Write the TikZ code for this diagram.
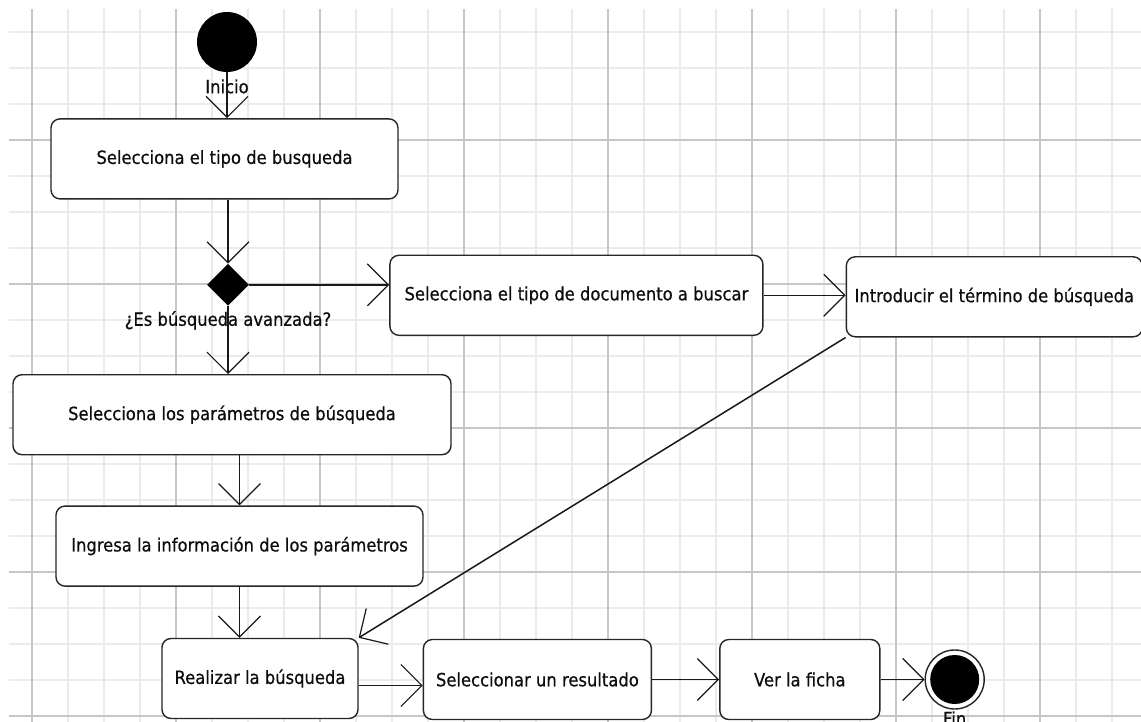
\documentclass[tikz,border=0pt]{standalone}
\usepackage{fontspec}
\setmainfont{DejaVu Sans}[FakeStretch=0.9, FakeBold=0.6]
\usetikzlibrary{positioning, shapes.geometric, arrows.meta}

\begin{document}
\begin{tikzpicture}[x=1pt, y=-1pt,
	every node/.style={font=\fontsize{18.2pt}{21pt}\selectfont, text=black!95},
	act/.style={draw=black!85, line width=1.4pt, rounded corners=9pt, fill=white, minimum height=80pt, inner sep=0pt},
	startnode/.style={circle, fill=black, minimum size=60pt, inner sep=0pt},
	endnode/.style={circle, draw=black!85, line width=1.4pt, fill=white, minimum size=59pt, inner sep=0pt,
		path picture={\fill[black] (path picture bounding box.center) circle (24.5pt);}},
	choice/.style={diamond, fill=black, minimum width=42pt, minimum height=42pt, inner sep=0pt},
	lbl/.style={inner sep=0pt},
	flow/.style={draw=black!90, line width=1.5pt, -{Straight Barb[length=21pt, width=42pt, line width=1.2pt]}},
	minor/.style={draw=black!8, line width=1.2pt},
	major/.style={draw=black!22, line width=1.4pt}]

	\useasboundingbox (0,0) rectangle (1141,722);
	\fill[white] (0,0) rectangle (1141,722);
	\foreach \x in {32,68,...,1141} \draw[minor] (\x,9) -- (\x,722);
	\foreach \y in {32,68,...,722} \draw[minor] (9,\y) -- (1141,\y);
	\foreach \x in {32,176,...,1141} \draw[major] (\x,9) -- (\x,722);
	\foreach \y in {140,284,...,722} \draw[major] (9,\y) -- (1141,\y);

	\node[startnode] (ini) at (227,42) {};
	\node[lbl, below=7pt of ini] (lini) {Inicio};
	\node[act, minimum width=347pt, below=46pt of ini, xshift=-2.5pt] (tipo) {Selecciona el tipo de busqueda};

	\node[choice, below=64pt of tipo, xshift=3.5pt] (avz) {};
	\node[lbl, below=5pt of avz] (lavz) {¿Es búsqueda avanzada?};
	\node[act, minimum width=373pt, right=140pt of avz, yshift=-10.5pt] (doc) {Selecciona el tipo de documento a buscar};
	\node[act, minimum width=296pt, right=82pt of doc, yshift=-1.5pt] (term) {Introducir el término de búsqueda};

	\node[act, minimum width=438pt, below=68pt of avz, xshift=4pt] (param) {Selecciona los parámetros de búsqueda};
	\node[act, minimum width=367pt, below=50pt of param, xshift=7.5pt] (info) {Ingresa la información de los parámetros};
	\node[act, minimum width=196pt, below=51pt of info, xshift=20.5pt] (real) {Realizar la búsqueda};
	\node[act, minimum width=228pt, right=64pt of real, yshift=-1pt] (res) {Seleccionar un resultado};
	\node[act, minimum width=160pt, right=67pt of res] (ficha) {Ver la ficha};
	\node[endnode, right=44pt of ficha] (fin) {};
	\node[lbl, below=1.5pt of fin] (lfin) {Fin};

	\draw[flow] (ini.south) -- (ini.south |- tipo.north);
	\draw[flow] (tipo.south -| avz.north) -- (avz.north);
	\draw[flow] (avz.east) -- (avz.east -| doc.west);
	\draw[flow] (doc.east) -- (doc.east -| term.west);
	\draw[flow] (avz.south) -- (avz.south |- param.north);
	\draw[flow] (param.south -| info.north) -- (info.north);
	\draw[flow] (info.south) -- (info.south |- real.north);
	\draw[flow] (term.south west) -- (real.north east);
	\draw[flow] ([yshift=-7pt]real.east) -- ([yshift=-7pt]real.east -| res.west);
	\draw[flow] (res.east) -- (ficha.west);
	\draw[flow] (ficha.east) -- (fin.west);
\end{tikzpicture}
\end{document}
